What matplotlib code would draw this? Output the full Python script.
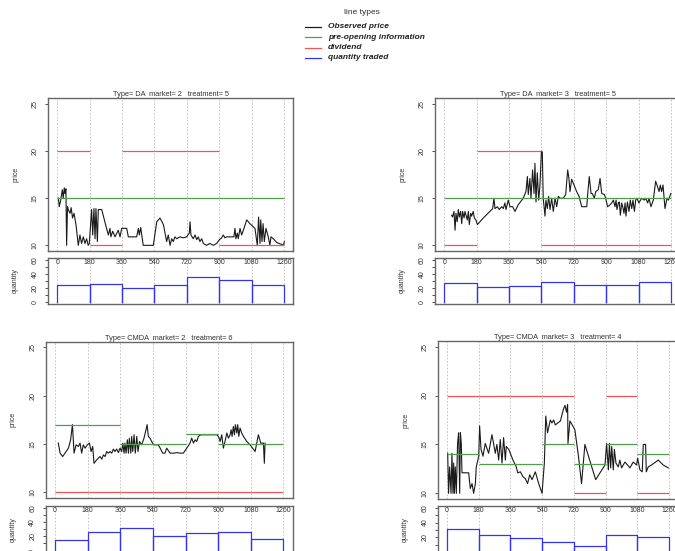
import matplotlib
matplotlib.use("Agg")
import matplotlib.pyplot as plt
from matplotlib.lines import Line2D
from matplotlib.transforms import blended_transform_factory

plt.rcParams['font.family'] = ['Liberation Sans', 'DejaVu Sans']

W, H = 675, 551

# period boundaries (seconds)
period_start = [0, 180, 360, 540, 720, 900, 1080]
period_len = 180
x_ticks = [0, 180, 360, 540, 720, 900, 1080, 1260]

# ---- Type= DA market= 2 treatment= 5
tl_title = "Type= DA  market= 2   treatment= 5"
tl_t = [6, 11, 19, 28, 33, 39, 43, 48, 52, 57, 61, 71, 77, 85, 93, 104, 117, 126, 135, 145,
        154, 163, 172, 178, 191, 197, 204, 210, 215, 223, 228, 247, 274, 284, 293, 298, 308,
        321, 339, 349, 358, 386, 395, 441, 451, 456, 464, 471, 478, 534, 553, 571, 590, 608,
        617, 627, 636, 645, 654, 664, 682, 701, 719, 734, 738, 743, 756, 766, 775, 784, 793,
        803, 812, 830, 849, 858, 868, 886, 901, 914, 923, 932, 942, 969, 982, 988, 993, 1001,
        1006, 1016, 1025, 1038, 1053, 1071, 1099, 1112, 1119, 1127, 1131, 1138, 1144, 1151,
        1160, 1173, 1182, 1188, 1201, 1220, 1247, 1258, 1262]
tl_p = [15.0, 14.1, 14.8, 15.9, 15.0, 16.1, 15.5, 16.0, 10.0, 14.1, 13.8, 13.4, 14.0, 12.9,
        13.4, 12.2, 10.0, 11.1, 10.2, 10.9, 10.2, 10.7, 10.0, 10.2, 13.8, 11.1, 13.9, 10.7,
        13.9, 10.4, 13.8, 13.8, 11.8, 11.1, 11.8, 10.9, 11.5, 10.9, 11.6, 10.9, 11.8, 11.8,
        10.9, 10.9, 11.8, 11.1, 11.9, 10.9, 10.0, 10.0, 12.5, 12.9, 12.2, 10.4, 11.1, 10.0,
        10.7, 10.4, 10.9, 10.7, 10.9, 10.8, 10.9, 11.3, 12.5, 11.1, 10.7, 11.1, 10.6, 10.9,
        10.4, 10.7, 10.2, 10.0, 10.2, 10.1, 10.0, 10.2, 10.6, 10.8, 11.1, 10.8, 10.9, 10.9,
        10.9, 11.8, 10.7, 11.3, 10.7, 11.8, 11.1, 11.8, 12.7, 12.3, 11.8, 10.0, 13.0, 10.2,
        12.7, 10.4, 12.3, 10.4, 11.8, 10.9, 10.0, 10.9, 10.7, 10.3, 10.1, 10.0, 10.4]
tl_q = [24, 26, 20, 24, 36, 31, 25]
tl_div = [20, 10, 20, 20, 20, 10, 10]
tl_info = [15, 15, 15, 15, 15, 15, 15]

# ---- Type= DA market= 3 treatment= 5
tr_title = "Type= DA  market= 3   treatment= 5"
tr_t = [41, 46, 54, 60, 65, 72, 78, 84, 91, 97, 102, 110, 115, 121, 128, 134, 139, 147, 152,
        161, 167, 176, 184, 217, 254, 269, 276, 282, 295, 306, 319, 328, 337, 343, 356, 365,
        380, 393, 411, 439, 454, 462, 467, 476, 482, 491, 499, 504, 510, 517, 525, 532, 540,
        545, 550, 560, 565, 573, 580, 588, 597, 606, 616, 625, 634, 643, 662, 675, 686, 693,
        699, 708, 717, 736, 749, 764, 792, 797, 806, 816, 823, 834, 842, 856, 866, 875, 890,
        897, 908, 921, 931, 940, 949, 955, 960, 968, 973, 979, 986, 992, 999, 1005, 1010,
        1018, 1027, 1034, 1042, 1049, 1057, 1064, 1071, 1082, 1097, 1112, 1120, 1131, 1138,
        1149, 1162, 1175, 1186, 1194, 1201, 1208, 1216, 1227, 1238, 1246, 1260]
tr_p = [13.2, 13.0, 13.6, 11.6, 13.4, 12.5, 13.8, 13.0, 13.6, 12.3, 13.6, 12.9, 13.6, 13.2,
        12.7, 13.6, 12.2, 13.4, 13.1, 13.6, 12.9, 12.7, 12.2, 12.9, 13.6, 13.9, 15.0, 13.9,
        14.1, 13.8, 14.1, 13.9, 14.5, 13.8, 14.8, 14.1, 14.1, 13.6, 14.3, 15.0, 15.7, 17.3,
        15.4, 17.1, 15.0, 18.0, 15.5, 18.7, 14.6, 17.7, 14.8, 16.4, 20.0, 19.9, 15.0, 13.1,
        14.8, 13.9, 15.2, 13.8, 15.0, 13.6, 15.0, 14.1, 15.2, 15.0, 15.0, 15.4, 18.0, 17.1,
        15.7, 17.0, 16.6, 15.7, 15.2, 14.1, 14.1, 15.4, 17.3, 15.5, 15.5, 15.0, 15.7, 15.9,
        17.1, 15.5, 15.4, 15.0, 14.1, 14.3, 14.5, 14.8, 14.1, 14.8, 13.8, 14.5, 14.6, 13.2,
        14.5, 14.1, 13.4, 14.5, 13.1, 14.6, 13.6, 14.8, 13.9, 14.8, 13.6, 14.8, 15.0, 14.5,
        15.0, 14.8, 15.0, 14.5, 15.0, 14.1, 14.8, 16.8, 16.2, 15.7, 16.4, 15.7, 16.4, 13.9,
        15.0, 14.8, 15.5]
tr_q = [27, 21, 23, 28, 25, 25, 29]
tr_div = [10, 20, 20, 10, 10, 10, 10]
tr_info = [15, 15, 15, 15, 15, 15, 15]

# ---- Type= CMDA market= 2 treatment= 6
bl_title = "Type= CMDA  market= 2   treatment= 6"
bl_t = [18, 28, 42, 55, 74, 86, 96, 105, 116, 129, 138, 147, 156, 166, 178, 190, 199, 208,
        215, 230, 239, 248, 258, 267, 276, 285, 294, 304, 313, 322, 331, 340, 350, 359, 368,
        374, 381, 386, 392, 399, 405, 410, 418, 423, 429, 436, 443, 451, 458, 466, 478, 491,
        502, 508, 515, 524, 543, 570, 580, 594, 607, 616, 635, 657, 672, 690, 708, 727, 745,
        754, 764, 773, 782, 791, 804, 892, 902, 911, 920, 929, 938, 948, 957, 966, 972, 977,
        984, 990, 995, 1003, 1008, 1014, 1021, 1030, 1040, 1058, 1076, 1104, 1122, 1135,
        1150, 1155, 1159]
bl_p = [15.1, 14.05, 13.7, 14.05, 14.57, 15.43, 17.0, 14.05, 14.91, 14.74, 15.09, 14.05,
        14.91, 14.57, 14.91, 15.09, 14.22, 14.74, 13.0, 13.36, 13.53, 13.7, 13.43, 13.87,
        13.7, 14.22, 14.05, 14.22, 14.05, 14.47, 14.22, 14.47, 14.11, 14.57, 14.22, 15.09,
        14.05, 15.09, 14.05, 15.43, 14.05, 15.6, 14.05, 15.78, 14.22, 15.95, 14.05, 15.78,
        14.22, 15.26, 14.91, 15.6, 16.47, 17.0, 15.78, 15.6, 14.91, 14.91, 14.57, 14.05,
        14.05, 14.57, 14.05, 14.05, 14.11, 14.05, 14.05, 14.57, 15.09, 15.6, 15.09, 15.43,
        15.26, 15.78, 15.95, 15.95, 15.78, 15.26, 15.95, 14.57, 15.26, 16.13, 15.6, 15.95,
        16.47, 15.78, 16.8, 15.95, 17.0, 16.13, 17.0, 15.78, 16.65, 16.13, 15.78, 15.26,
        14.91, 14.22, 15.95, 15.09, 15.09, 13.0, 15.09]
bl_q = [15, 26, 31, 20, 24, 26, 16]
bl_div = [10, 10, 10, 10, 10, 10, 10]
bl_info = [17, 17, 15, 15, 16, 15, 15]

# ---- Type= CMDA market= 3 treatment= 4
br_title = "Type= CMDA  market= 3   treatment= 4"
br_t = [4, 9, 15, 23, 28, 34, 38, 42, 47, 53, 60, 66, 72, 76, 81, 85, 123, 132, 142, 151,
        161, 166, 180, 185, 193, 204, 217, 236, 255, 274, 283, 293, 302, 312, 321, 331, 336,
        350, 359, 374, 393, 401, 416, 431, 444, 457, 469, 482, 501, 520, 539, 552, 560, 570,
        586, 595, 605, 614, 643, 660, 669, 678, 684, 686, 697, 710, 725, 744, 763, 782, 843,
        896, 905, 915, 921, 928, 934, 943, 949, 958, 971, 980, 990, 1009, 1024, 1037, 1056,
        1075, 1081, 1094, 1107, 1113, 1126, 1130, 1141, 1160, 1198, 1226, 1255]
br_p = [14.1, 10.0, 12.7, 10.0, 14.1, 10.0, 13.1, 10.0, 12.7, 10.0, 15.1, 16.2, 10.0, 16.2,
        15.1, 12.1, 12.1, 10.5, 11.0, 10.0, 11.0, 12.7, 13.8, 16.9, 14.5, 13.8, 15.1, 14.1,
        16.0, 14.1, 15.0, 13.4, 15.5, 13.1, 15.7, 13.4, 14.8, 14.5, 14.1, 13.4, 12.7, 12.1,
        12.2, 11.7, 11.5, 11.0, 11.9, 11.4, 12.2, 11.0, 10.0, 13.1, 17.9, 16.2, 17.5, 17.2,
        17.5, 17.0, 17.4, 18.6, 19.0, 18.3, 19.1, 15.1, 17.4, 17.0, 16.5, 14.0, 11.0, 15.0,
        11.4, 12.9, 15.1, 12.4, 15.1, 12.6, 14.8, 12.4, 14.5, 13.1, 12.7, 13.4, 12.6, 13.2,
        12.9, 12.6, 13.2, 12.9, 13.6, 12.4, 12.2, 15.0, 15.0, 12.2, 12.7, 12.9, 13.4, 12.9,
        12.6]
br_q = [31, 23, 19, 14, 8, 23, 21]
br_div = [20, 20, 20, 20, 10, 20, 10]
br_info = [14, 13, 13, 15, 13, 15, 14]

C_PRICE = '#1a1a1a'
C_INFO = '#4f9f4f'
C_DIV = '#f05555'
C_QTY = '#3434f0'
C_BOX = '#666666'
C_GRID = '#bbbbbb'


def px_rect(left, width, top, bottom):
    return [left / W, 1 - bottom / H, width / W, (bottom - top) / H]


def style_box(ax):
    for s in ax.spines.values():
        s.set_color(C_BOX)
        s.set_linewidth(1.0)
    ax.tick_params(colors='#333333', labelsize=5, length=2.5, width=0.6, pad=4.5)
    for lab in ax.get_yticklabels():
        lab.set_rotation(90)
        lab.set_va('center')


def draw_panel(fig, left, width, p_top, p_bot, q_top, q_bot,
               title, t, p, q, div, info):
    ends = [s + period_len for s in period_start]

    # price panel
    ax = fig.add_axes(px_rect(left, width, p_top, p_bot))
    for xt in x_ticks:
        ax.axvline(xt, color=C_GRID, lw=0.6, ls=(0, (2, 2)), zorder=0)
    ax.plot(t, p, color=C_PRICE, lw=0.8, zorder=2)
    ax.hlines(info, period_start, ends, color=C_INFO, lw=0.9, zorder=3)
    ax.hlines(div, period_start, ends, color=C_DIV, lw=0.9, zorder=3)
    ax.set_xlim(-50.4, 1310.4)
    ax.set_ylim(9.4, 25.6)
    ax.set_xticks([])
    ax.set_yticks([10, 15, 20, 25])
    style_box(ax)
    ax.set_ylabel('price', fontsize=5, color='#333333')
    ax.yaxis.set_label_coords(-29 / width, 0.5)
    ax.text(0.5, 1 + 3.5 / (p_bot - p_top), title, transform=ax.transAxes,
            ha='center', va='center', fontsize=5.3, color='#333333')

    # quantity panel
    aq = fig.add_axes(px_rect(left, width, q_top, q_bot))
    for xt in x_ticks:
        aq.axvline(xt, color=C_GRID, lw=0.6, ls=(0, (2, 2)), zorder=0)
    for s, e, v in zip(period_start, ends, q):
        aq.plot([s, s, e, e], [0, v, v, 0], color=C_QTY, lw=0.9, zorder=2)
    aq.set_xlim(-50.4, 1310.4)
    aq.set_ylim(-2.4, 62.4)
    aq.set_xticks([])
    aq.set_yticks([0, 10, 20, 30, 40, 50, 60])
    aq.set_yticklabels(['0', '', '20', '', '40', '', '60'])
    style_box(aq)
    aq.set_ylabel('quantity', fontsize=5, color='#333333')
    aq.yaxis.set_label_coords(-29 / width, 0.5)
    trans = blended_transform_factory(aq.transData, aq.transAxes)
    for xt in x_ticks:
        aq.text(xt, 1 - 4.5 / (q_bot - q_top), str(xt), transform=trans,
                ha='center', va='center', fontsize=5, color='#333333')


fig = plt.figure(figsize=(W / 100, H / 100), dpi=100)

draw_panel(fig, 48.2, 244.8, 98.3, 251, 258, 304,
           tl_title, tl_t, tl_p, tl_q, tl_div, tl_info)
draw_panel(fig, 435.2, 244.8, 98.3, 251, 258, 304,
           tr_title, tr_t, tr_p, tr_q, tr_div, tr_info)
draw_panel(fig, 45.9, 246.6, 341.5, 498.1, 506, 552.3,
           bl_title, bl_t, bl_p, bl_q, bl_div, bl_info)
draw_panel(fig, 438.1, 240, 340.8, 499.2, 505.9, 554,
           br_title, br_t, br_p, br_q, br_div, br_info)

# legend drawn by hand in figure coordinates
legend_labels = ['Observed price', 'pre-opening information', 'dividend', 'quantity traded']
legend_colors = [C_PRICE, C_INFO, C_DIV, C_QTY]
fig.text(362 / W, 1 - 13 / H, 'line types', ha='center', va='center',
         fontsize=6, color='#333333')
for i, (lab, col) in enumerate(zip(legend_labels, legend_colors)):
    yy = 1 - (27 + 10.3 * i) / H
    fig.add_artist(Line2D([305 / W, 321 / W], [yy, yy], color=col, lw=0.9))
    fig.text(328 / W, yy, lab, ha='left', va='center', fontsize=6,
             fontweight='bold', style='italic', color='#222222')

fig.savefig('out.png', dpi=100)
